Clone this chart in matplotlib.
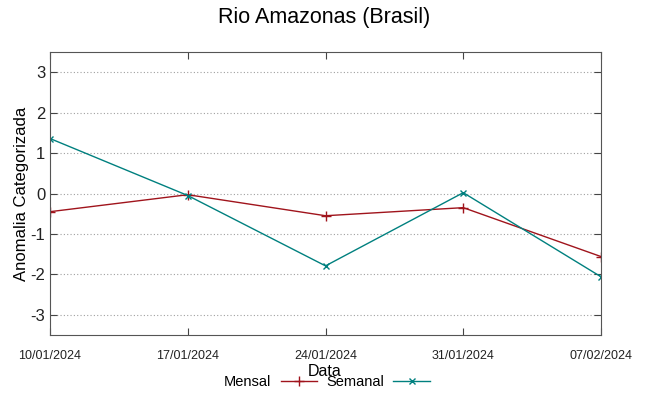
import matplotlib
matplotlib.use("Agg")
import matplotlib.pyplot as plt
from matplotlib.lines import Line2D

# data
dates = ["10/01/2024", "17/01/2024", "24/01/2024", "31/01/2024", "07/02/2024"]
mensal = [-0.45, -0.03, -0.55, -0.35, -1.56]
semanal = [1.36, -0.05, -1.79, 0.02, -2.06]
yticks = [-3, -2, -1, 0, 1, 2, 3]

RED = "#a0141c"
TEAL = "#00807f"

plt.rcParams['font.family'] = ['Liberation Sans', 'DejaVu Sans']

fig = plt.figure(figsize=(6.49, 3.96), dpi=100)
ax = fig.add_axes([50/649, 61/396, 551/649, 283/396])

x = list(range(len(dates)))
ax.plot(x, mensal, color=RED, lw=1, marker='+', ms=7, mew=1)
ax.plot(x, semanal, color=TEAL, lw=1, marker='x', ms=5, mew=1)

ax.set_xlim(0, len(dates) - 1)
ax.set_ylim(-3.5, 3.5)
ax.set_xticks(x)
ax.set_xticklabels(dates, fontsize=9)
ax.set_yticks(yticks)
ax.set_yticklabels([str(v) for v in yticks], fontsize=12)
ax.tick_params(direction='in', length=5, top=True, right=True, colors='#444444', labelcolor='#222222')
ax.tick_params(axis='x', pad=11)
ax.yaxis.grid(True, color='#a0a0a0', linestyle=(0, (1, 2)), lw=0.8)
for s in ax.spines.values():
    s.set_color('#555555')

ax.set_ylabel("Anomalia Categorizada", fontsize=12, labelpad=1)
fig.text(325/649, 1 - 371/396, "Data", ha='center', va='center', fontsize=11.5)
fig.suptitle("Rio Amazonas (Brasil)", fontsize=15.5, y=1 - 18/396, va='center')

handles = [Line2D([], [], color=RED, lw=1, marker='+', ms=7),
           Line2D([], [], color=TEAL, lw=1, marker='x', ms=5)]
fig.legend(handles, ["Mensal", "Semanal"], loc='center', bbox_to_anchor=(327/649, 1 - 382/396),
           ncol=2, frameon=False, markerfirst=False, fontsize=10.5, handlelength=2.5,
           columnspacing=0.6, handletextpad=0.65, borderaxespad=0, numpoints=1)

fig.savefig("out.png", dpi=100)
